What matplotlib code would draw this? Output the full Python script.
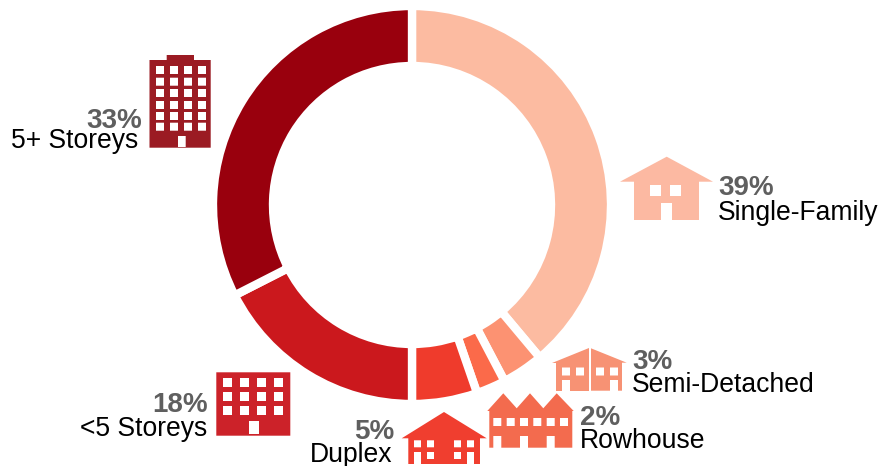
import matplotlib
matplotlib.use("Agg")
from matplotlib import pyplot as plt
from matplotlib.patches import Polygon, Rectangle

plt.rcParams["font.family"] = ["Liberation Sans", "DejaVu Sans"]

categories = ["Single-Family", "Semi-Detached", "Rowhouse", "Duplex", "<5 Storeys", "5+ Storeys"]
shares = [38.9, 3.4, 2.4, 5.3, 17.5, 32.5]
share_labels = ["39%", "3%", "2%", "5%", "18%", "33%"]
colors = ["#FCBBA1", "#FC9272", "#FB6A4A", "#EF3B2C", "#CB181D", "#99000D"]

W, H = 882, 466
fig = plt.figure(figsize=(W / 100, H / 100), dpi=100)

# ring in its own axes, y going up
pie_ax = fig.add_axes([0, 0, 1, 1])
pie_ax.pie(shares, colors=colors, startangle=90, counterclock=False,
           center=(412, H - 205), radius=199,
           wedgeprops={"width": 60, "edgecolor": "white", "linewidth": 6})
pie_ax.set_xlim(0, W)
pie_ax.set_ylim(0, H)
pie_ax.axis("off")

# icons and text in pixel coords, y going down
ax = fig.add_axes([0, 0, 1, 1])
ax.set_xlim(0, W)
ax.set_ylim(H, 0)
ax.axis("off")
ax.patch.set_alpha(0)


def poly(points, color):
    ax.add_patch(Polygon(points, closed=True, facecolor=color, edgecolor="none"))


def rect(x0, y0, x1, y1, color="white"):
    ax.add_patch(Rectangle((x0, y0), x1 - x0, y1 - y0, facecolor=color, edgecolor="none", snap=False))


def windows(xs, ys, w, h):
    for x in xs:
        for y in ys:
            rect(x, y, x + w, y + h)


# 5+ storeys tower
c = "#9B1B23"
rect(149.5, 60, 210.7, 147.7, c)
rect(166.7, 55, 194, 60.5, c)
windows([156, 170, 184, 198], [66, 77.7, 89, 101, 112, 122.7], 8, 8)
rect(178, 136, 185.7, 147)

# <5 storeys block
c = "#CC2229"
rect(216.3, 372.3, 290.3, 435.7, c)
windows([223, 240, 257, 274], [378, 392, 406], 9, 9)
rect(249, 421, 259, 434)

# single family house
c = "#FCB9A2"
poly([(666.7, 156.7), (713, 181.7), (699, 181.7), (699, 220), (634, 220),
      (634, 181.7), (620, 181.7)], c)
windows([650, 670], [185], 11, 11)
rect(661, 203, 672, 220.5)

# semi-detached, two halves
c = "#F79274"
poly([(589, 348.3), (589, 390.7), (556, 390.7), (556, 362.7), (552.3, 362.7)], c)
poly([(591, 348.3), (626.7, 362.7), (622, 362.7), (622, 390.7), (591, 390.7)], c)
windows([562, 576, 596, 610], [367.5], 8, 8)
rect(562, 380, 570, 391)
rect(610, 380, 618, 391)

# rowhouse
c = "#F36B4E"
poly([(487.3, 411), (503.3, 393.3), (516.7, 408.3), (530, 393.3), (543.3, 408.3),
      (556.7, 393.3), (573.7, 411), (572.3, 411), (572.3, 447.7), (489.3, 447.7),
      (489.3, 411)], c)
windows([493.3, 506.7, 520, 533.3, 546.7, 560], [418], 8, 8)
for x in [493.3, 520, 546.7]:
    rect(x, 436, x + 8, 448)

# duplex
c = "#F03E2F"
poly([(444, 412), (486.7, 438.3), (480, 438.3), (480, 464), (408.3, 464),
      (408.3, 438.3), (401.7, 438.3)], c)
windows([414, 427, 454, 467], [440.3], 7, 7)
windows([427, 454], [452], 7, 7)
rect(414, 452, 421, 464.5)
rect(467, 452, 474, 464.5)

# labels: x, align, baseline of percent, x and baseline of name
label_pos = [
    (718, "left", 195, 718, 220),
    (632, "left", 369, 632, 392),
    (580, "left", 425, 580, 448),
    (394, "right", 439, 392, 462),
    (208, "right", 412, 207, 435.5),
    (142, "right", 127.5, 138, 148),
]
for name, pct, (px, ha, py, nx, ny) in zip(categories, share_labels, label_pos):
    ax.text(px, py, pct, ha=ha, va="baseline", fontsize=20, fontweight="bold", color="#5F5F5F")
    ax.text(nx, ny, name, ha=ha, va="baseline", fontsize=19.1, color="black")

fig.savefig("out.png", dpi=100)
